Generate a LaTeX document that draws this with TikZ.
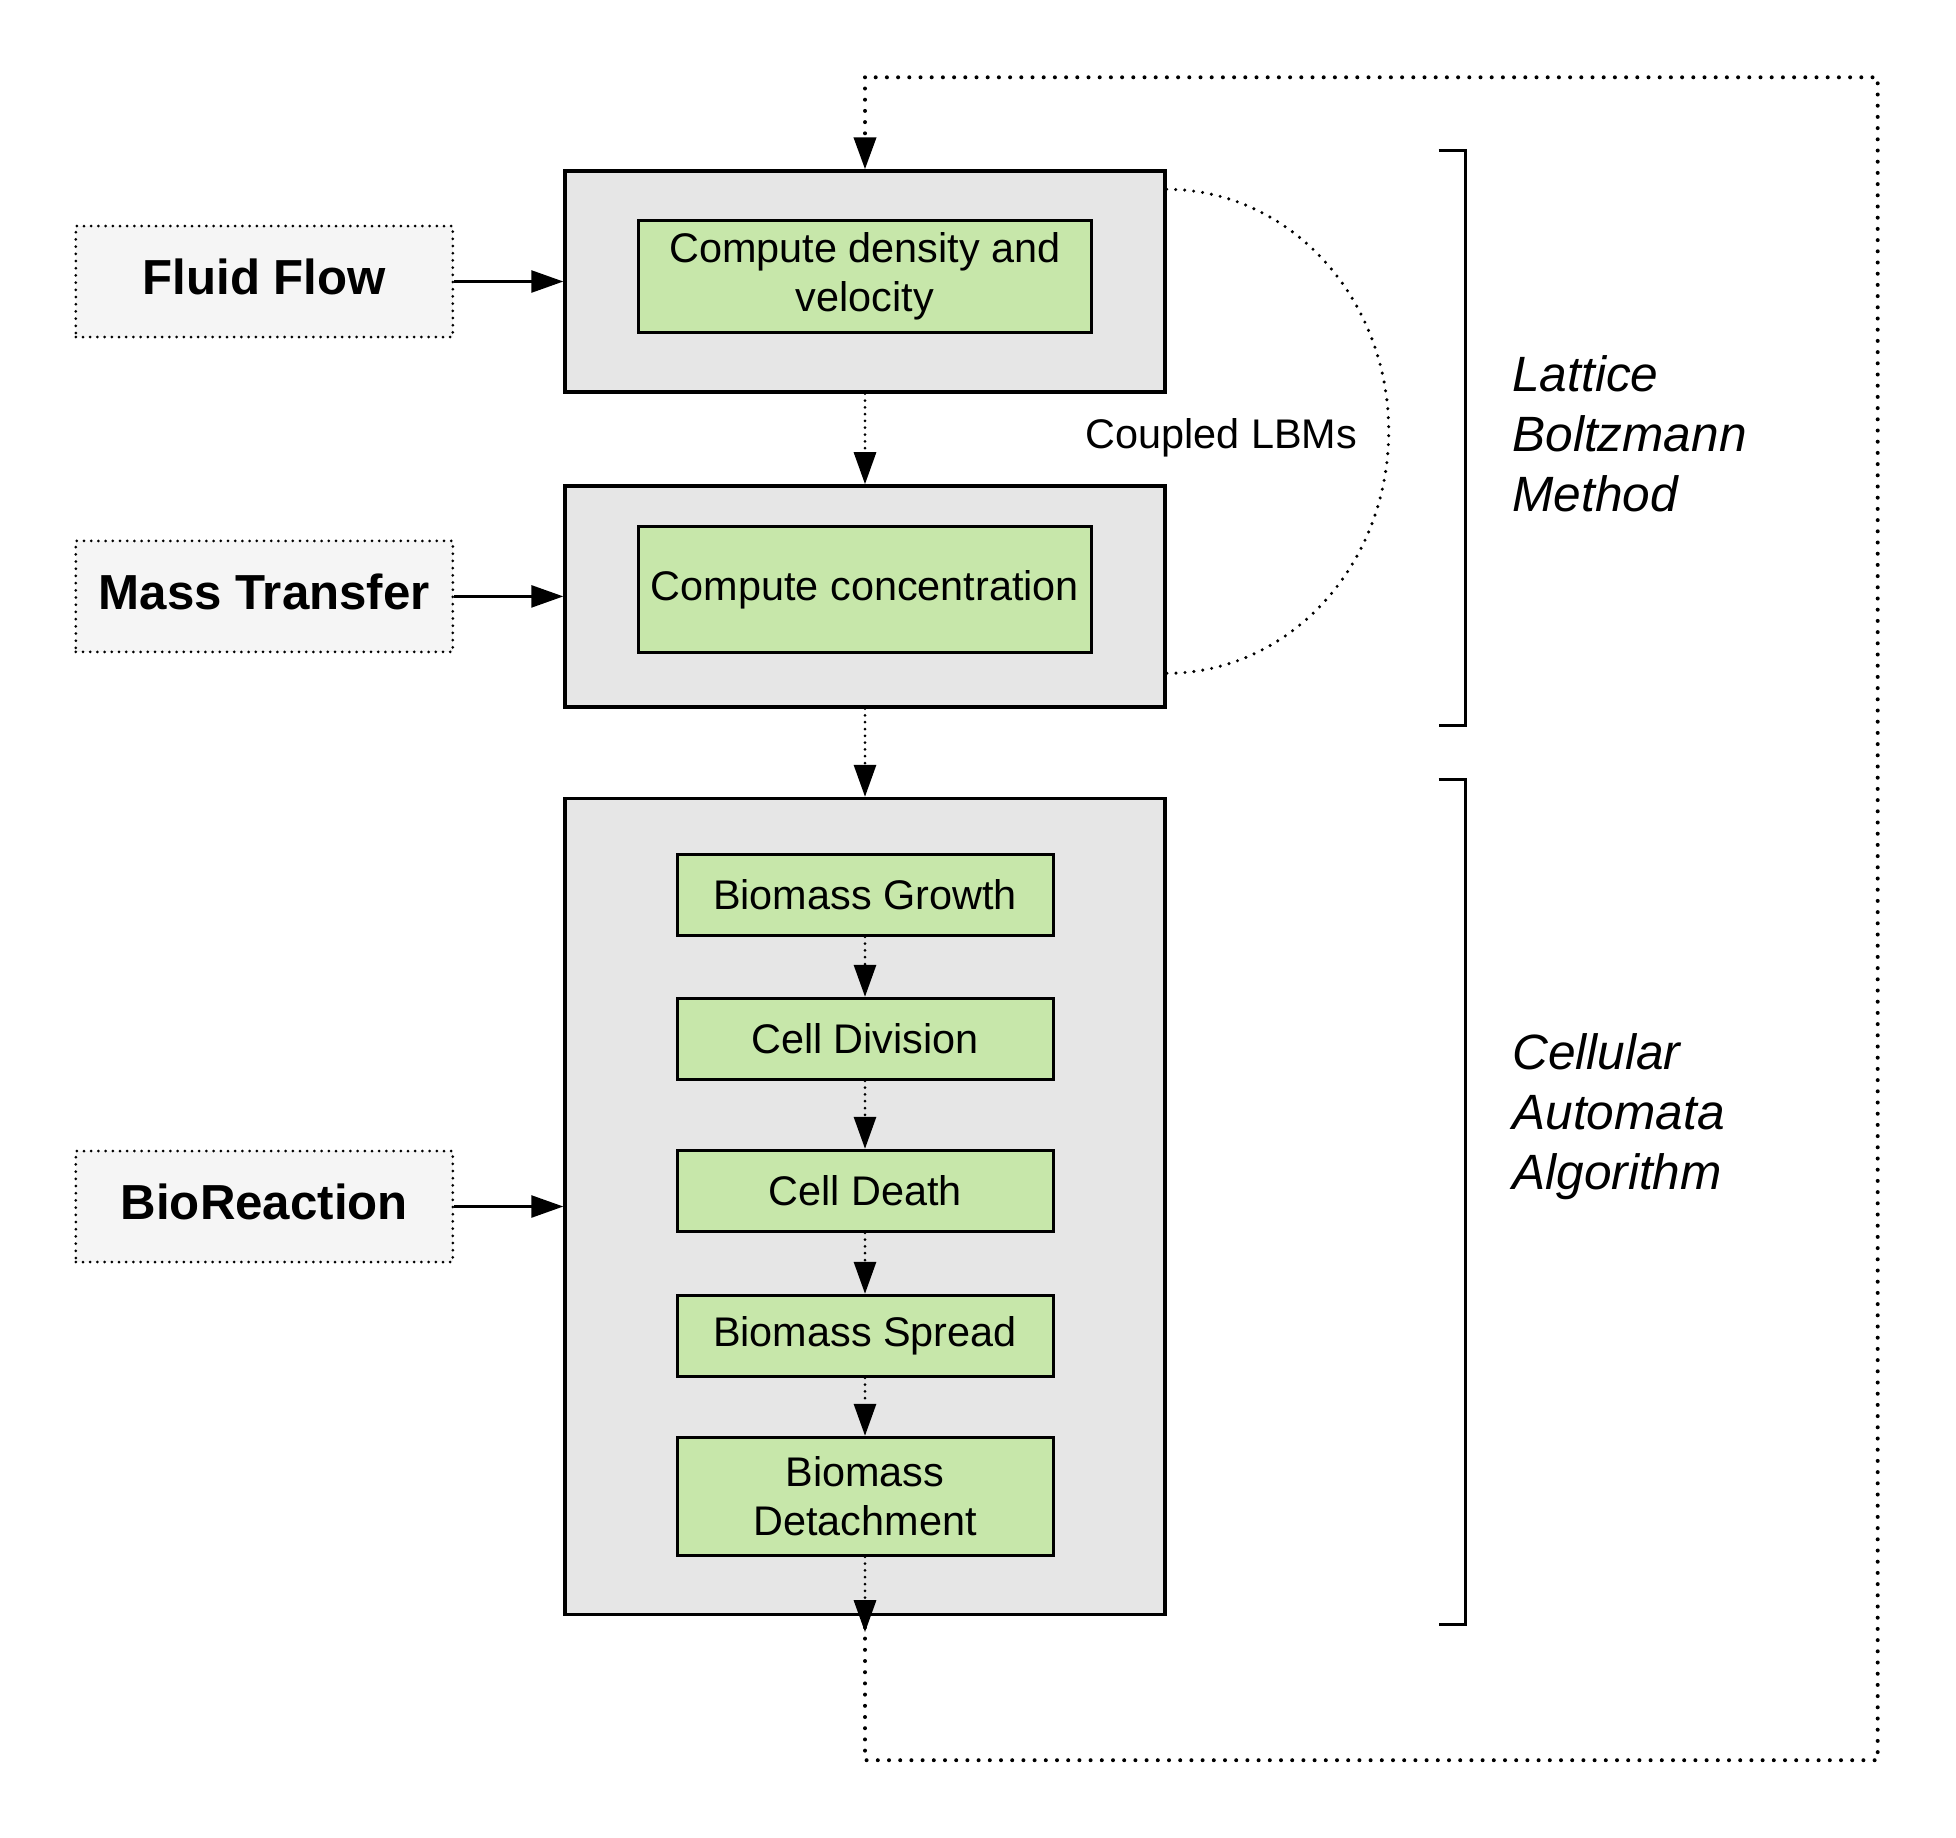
\documentclass[tikz,border=0pt]{standalone}
\usepackage{fontspec}
\setmainfont{Liberation Sans}
\usepackage{xcolor}
\usetikzlibrary{arrows.meta,positioning,calc}

\definecolor{stagegray}{HTML}{E6E6E6}
\definecolor{stepgreen}{HTML}{C7E7AA}
\definecolor{inputgray}{HTML}{F5F5F5}

\begin{document}
\begin{tikzpicture}[
    x=1pt, y=1pt,
    stage/.style={rectangle, draw, line width=1.7pt, fill=stagegray, minimum width=300pt},
    task/.style={rectangle, draw, line width=1.5pt, fill=stepgreen, align=center, inner sep=0pt, font=\fontsize{20.7}{24.3}\selectfont},
    minor/.style={task, minimum width=188pt, minimum height=40.5pt},
    input/.style={rectangle, draw, fill=inputgray, line width=1.5pt, line cap=round, dash pattern=on 0pt off 3.6pt, minimum width=188.5pt, minimum height=55.5pt, text depth=5pt, font=\fontsize{24.6}{29}\selectfont\bfseries},
    side/.style={align=left, inner sep=0pt, font=\fontsize{24.8}{30}\selectfont\itshape},
    feed/.style={-{Triangle[length=16pt,width=11pt]}, line width=1.3pt},
    flow/.style={-{Triangle[length=16pt,width=11pt]}, line width=1.5pt, line cap=round, dash pattern=on 0pt off 3.4pt},
    loop/.style={line width=2pt, line cap=round, dash pattern=on 0pt off 5.6pt},
    coupling/.style={line width=1.7pt, line cap=round, dash pattern=on 0pt off 4.5pt},
    bracket/.style={line width=1.5pt}
]
    \useasboundingbox (0,0) rectangle (978,-919);

    \node [stage, minimum height=110.5pt] (fluid) at (432.5,-140.75) {};
    \node [stage, minimum height=110.5pt, below=45.25pt of fluid] (mass) {};
    \node [stage, minimum height=408pt, below=44.1pt of mass] (bio) {};

    \node [task, minimum width=226.5pt, minimum height=56pt] (density) at ([yshift=2.75pt]fluid.center) {Compute density and\\velocity};
    \node [task, minimum width=226.5pt, minimum height=63pt] (conc) at ([yshift=3.25pt]mass.center) {Compute concentration};

    \node [minor, below=28pt of bio.north] (growth) {Biomass Growth};
    \node [minor, below=30pt of growth] (division) {Cell Division};
    \node [minor, below=34pt of division] (death) {Cell Death};
    \node [minor, below=30.5pt of death] (spread) {Biomass Spread};
    \node [minor, minimum height=59pt, below=29pt of spread] (detach) {Biomass\\Detachment};

    \node [input, left=54.5pt of fluid] (fluidin) {Fluid Flow};
    \node [input, left=54.5pt of mass] (massin) {Mass Transfer};
    \node [input, left=54.5pt of bio] (bioin) {BioReaction};

    \draw [feed] (fluidin) -- (fluid);
    \draw [feed] (massin) -- (mass);
    \draw [feed] (bioin) -- (bio);

    \draw [flow] (fluid) -- (mass);
    \draw [flow] (mass) -- (bio);
    \draw [flow] (growth) -- (division);
    \draw [flow] (division) -- (death);
    \draw [flow] (death) -- (spread);
    \draw [flow] (spread) -- (detach);
    \draw [flow, shorten >=-8pt] (detach) -- (bio.south);

    \coordinate (loopbr) at ($(bio.south east)+(355.5,-72)$);
    \coordinate (looptop) at ($(fluid.north)+(0,46)$);
    \draw [loop] (bio.south) |- (loopbr) |- (looptop);
    \draw [flow, line width=2pt, dash pattern=on 0pt off 5.6pt] (looptop) -- (fluid.north);

    \draw [coupling] ([yshift=-10pt]fluid.north east) arc[start angle=90, end angle=-90, x radius=111, y radius=121]
        node [pos=0.5, left=15pt, yshift=-3pt, inner sep=0pt, font=\fontsize{20.7}{24.3}\selectfont] (coupled) {Coupled LBMs};

    \coordinate (lbmtop) at ($(fluid.north east)+(149.5,9.5)$);
    \coordinate (lbmbot) at ($(mass.south east)+(149.5,-8.5)$);
    \coordinate (catop) at ($(bio.north east)+(149.5,8.5)$);
    \coordinate (cabot) at ($(bio.south east)+(149.5,-4)$);
    \draw [bracket] ([xshift=-13.5pt]lbmtop) -- (lbmtop) -- (lbmbot) -- ([xshift=-13.5pt]lbmbot);
    \draw [bracket] ([xshift=-13.5pt]catop) -- (catop) -- (cabot) -- ([xshift=-13.5pt]cabot);

    \node [side, anchor=west] (lbm) at (756,-217) {Lattice\\Boltzmann\\Method};
    \node [side, anchor=west] (ca) at (756,-558.5) {Cellular\\Automata\\Algorithm};
\end{tikzpicture}
\end{document}
